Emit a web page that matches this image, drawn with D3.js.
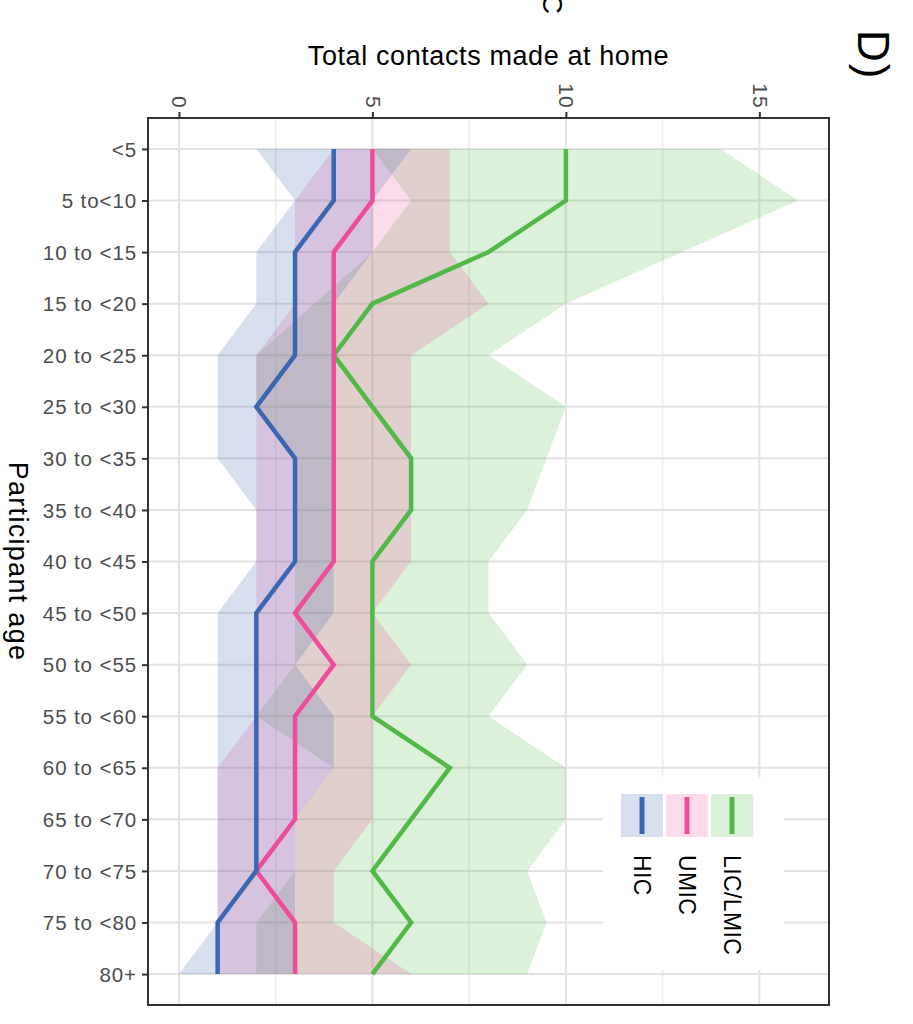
<!DOCTYPE html>
<html>
<head>
<meta charset="utf-8">
<script src="https://cdn.jsdelivr.net/npm/d3@7"></script>
<style>
  html, body { margin: 0; padding: 0; background: #fff; }
  svg { display: block; }
  text { font-family: "Liberation Sans", Arial, Helvetica, sans-serif; }
</style>
</head>
<body>
<svg id="chart" width="913" height="1024"></svg>
<script>
// ---------------- data ----------------
const ages = ["<5", "5 to<10", "10 to <15", "15 to <20", "20 to <25", "25 to <30", "30 to <35",
  "35 to <40", "40 to <45", "45 to <50", "50 to <55", "55 to <60", "60 to <65", "65 to <70",
  "70 to <75", "75 to <80", "80+"];

const hicMedian = [4, 4, 3, 3, 3, 2, 3, 3, 3, 2, 2, 2, 2, 2, 2, 1, 1];
const hicLower  = [2, 3, 2, 2, 1, 1, 1, 2, 2, 1, 1, 1, 1, 1, 1, 1, 0];
const hicUpper  = [6, 5, 5, 4, 4, 4, 4, 4, 4, 4, 3, 4, 4, 3, 3, 3, 3];

const umicMedian = [5, 5, 4, 4, 4, 4, 4, 4, 4, 3, 4, 3, 3, 3, 2, 3, 3];
const umicLower  = [4, 3, 3, 3, 2, 2, 2, 2, 2, 2, 2, 2, 1, 1, 1, 1, 1];
const umicUpper  = [7, 7, 7, 8, 6, 6, 6, 6, 6, 5, 6, 5, 5, 5, 4, 4, 6];

const lmicMedian = [10, 10, 8, 5, 4, 5, 6, 6, 5, 5, 5, 5, 7, 6, 5, 6, 5];
const lmicLower  = [5, 6, 5, 3.5, 2, 2, 3, 3, 3, 3, 3, 2, 4, 3, 3, 2, 2];
const lmicUpper  = [14, 16, 13, 10, 8, 10, 9.5, 9, 8, 8, 9, 8, 10, 10, 9, 9.5, 9];

const groupNames = ["HIC", "UMIC", "LIC/LMIC"];
const groupColors = ["#3d66b0", "#ee4c9a", "#52b848"];
const xTicks = [0, 5, 10, 15];
const xMinorTicks = [2.5, 7.5, 12.5];

const xTitle = "Total contacts made at home";
const yTitle = "Participant age";
const panelTag = "D)";

// ---------------- layout ----------------
const svg = d3.select("#chart");
const P = { left: 148, right: 829, top: 118, bottom: 1005 };

const x = d3.scaleLinear().domain([-0.8, 16.8]).range([P.left, P.right]);
const y = d3.scalePoint().domain(ages).range([P.top, P.bottom]).padding(0.6);

const series = [
  { name: groupNames[0], color: groupColors[0], med: hicMedian, lo: hicLower, hi: hicUpper },
  { name: groupNames[1], color: groupColors[1], med: umicMedian, lo: umicLower, hi: umicUpper },
  { name: groupNames[2], color: groupColors[2], med: lmicMedian, lo: lmicLower, hi: lmicUpper }
];
// drawing order: LIC/LMIC first, then UMIC, then HIC on top
const drawOrder = [series[2], series[1], series[0]];

svg.append("defs").append("clipPath").attr("id", "panelClip")
  .append("rect").attr("x", P.left).attr("y", P.top)
  .attr("width", P.right - P.left).attr("height", P.bottom - P.top);

// grid
const grid = svg.append("g");
grid.selectAll("line.minor").data(xMinorTicks).enter().append("line")
  .attr("x1", d => x(d)).attr("x2", d => x(d))
  .attr("y1", P.top).attr("y2", P.bottom)
  .attr("stroke", "#ebebeb").attr("stroke-width", 1.6);
grid.selectAll("line.majorx").data(xTicks).enter().append("line")
  .attr("x1", d => x(d)).attr("x2", d => x(d))
  .attr("y1", P.top).attr("y2", P.bottom)
  .attr("stroke", "#e3e3e3").attr("stroke-width", 2);
grid.selectAll("line.majory").data(ages).enter().append("line")
  .attr("x1", P.left).attr("x2", P.right)
  .attr("y1", d => y(d)).attr("y2", d => y(d))
  .attr("stroke", "#e3e3e3").attr("stroke-width", 2);

// ribbons
const plot = svg.append("g").attr("clip-path", "url(#panelClip)");
drawOrder.forEach(s => {
  const area = d3.area()
    .y((d, i) => y(ages[i]))
    .x0((d, i) => x(s.lo[i]))
    .x1((d, i) => x(s.hi[i]));
  plot.append("path").datum(ages)
    .attr("d", area)
    .attr("fill", s.color).attr("fill-opacity", 0.2);
});
// median lines
drawOrder.forEach(s => {
  const line = d3.line()
    .y((d, i) => y(ages[i]))
    .x((d, i) => x(s.med[i]));
  plot.append("path").datum(ages)
    .attr("d", line)
    .attr("fill", "none").attr("stroke", s.color)
    .attr("stroke-width", 4.5).attr("stroke-linejoin", "miter").attr("stroke-miterlimit", 10);
});

// legend
const lg = svg.append("g");
lg.append("rect").attr("x", 603).attr("y", 777).attr("width", 181).attr("height", 193).attr("fill", "#fff");
series.forEach((s, i) => {
  const kx = 621 + i * 45;
  lg.append("rect").attr("x", kx).attr("y", 794).attr("width", 42).attr("height", 43)
    .attr("fill", s.color).attr("fill-opacity", 0.2);
  lg.append("line").attr("x1", kx + 21).attr("x2", kx + 21).attr("y1", 797).attr("y2", 834)
    .attr("stroke", s.color).attr("stroke-width", 5);
  lg.append("text")
    .attr("transform", `translate(${kx + 13},855) rotate(90)`)
    .attr("font-size", 23).attr("letter-spacing", 0.4).attr("fill", "#000")
    .text(s.name);
});

// panel border
svg.append("rect").attr("x", P.left).attr("y", P.top)
  .attr("width", P.right - P.left).attr("height", P.bottom - P.top)
  .attr("fill", "none").attr("stroke", "#333333").attr("stroke-width", 2);

// top axis
const xAxis = svg.append("g").attr("transform", `translate(0,${P.top})`)
  .call(d3.axisTop(x).tickValues(xTicks).tickSize(6).tickFormat(d3.format("d")));
xAxis.select(".domain").remove();
xAxis.selectAll(".tick line").attr("stroke", "#333333").attr("stroke-width", 2);
xAxis.selectAll(".tick text")
  .attr("font-size", 21).attr("letter-spacing", 1.2).attr("fill", "#4d4d4d")
  .attr("text-anchor", "end").attr("dy", null).attr("y", null)
  .attr("transform", "translate(-7,-9) rotate(90)");

// left axis
const yAxis = svg.append("g").attr("transform", `translate(${P.left},0)`)
  .call(d3.axisLeft(y).tickSize(6));
yAxis.select(".domain").remove();
yAxis.selectAll(".tick line").attr("stroke", "#333333").attr("stroke-width", 2);
yAxis.selectAll(".tick text")
  .attr("font-size", 20.5).attr("letter-spacing", 0.9).attr("fill", "#4d4d4d")
  .attr("x", -11).attr("dy", "0.35em");

// titles
svg.append("text").attr("x", (P.left + P.right) / 2).attr("y", 65)
  .attr("text-anchor", "middle").attr("font-size", 27).attr("letter-spacing", 0.6)
  .attr("fill", "#000").text(xTitle);

svg.append("text")
  .attr("transform", `translate(9,${(P.top + P.bottom) / 2}) rotate(90)`)
  .attr("text-anchor", "middle").attr("font-size", 27).attr("letter-spacing", 1.3)
  .attr("fill", "#000").text(yTitle);

svg.append("text")
  .attr("transform", "translate(858,30) rotate(90)")
  .attr("font-size", 44).attr("letter-spacing", 2).attr("fill", "#000").text(panelTag);

// letter of the neighbouring panel, cut by the top edge as in the reference
svg.append("text")
  .attr("transform", "translate(543,14) rotate(90)")
  .attr("text-anchor", "end").attr("font-size", 28).attr("fill", "#000").text("C");
</script>
</body>
</html>
